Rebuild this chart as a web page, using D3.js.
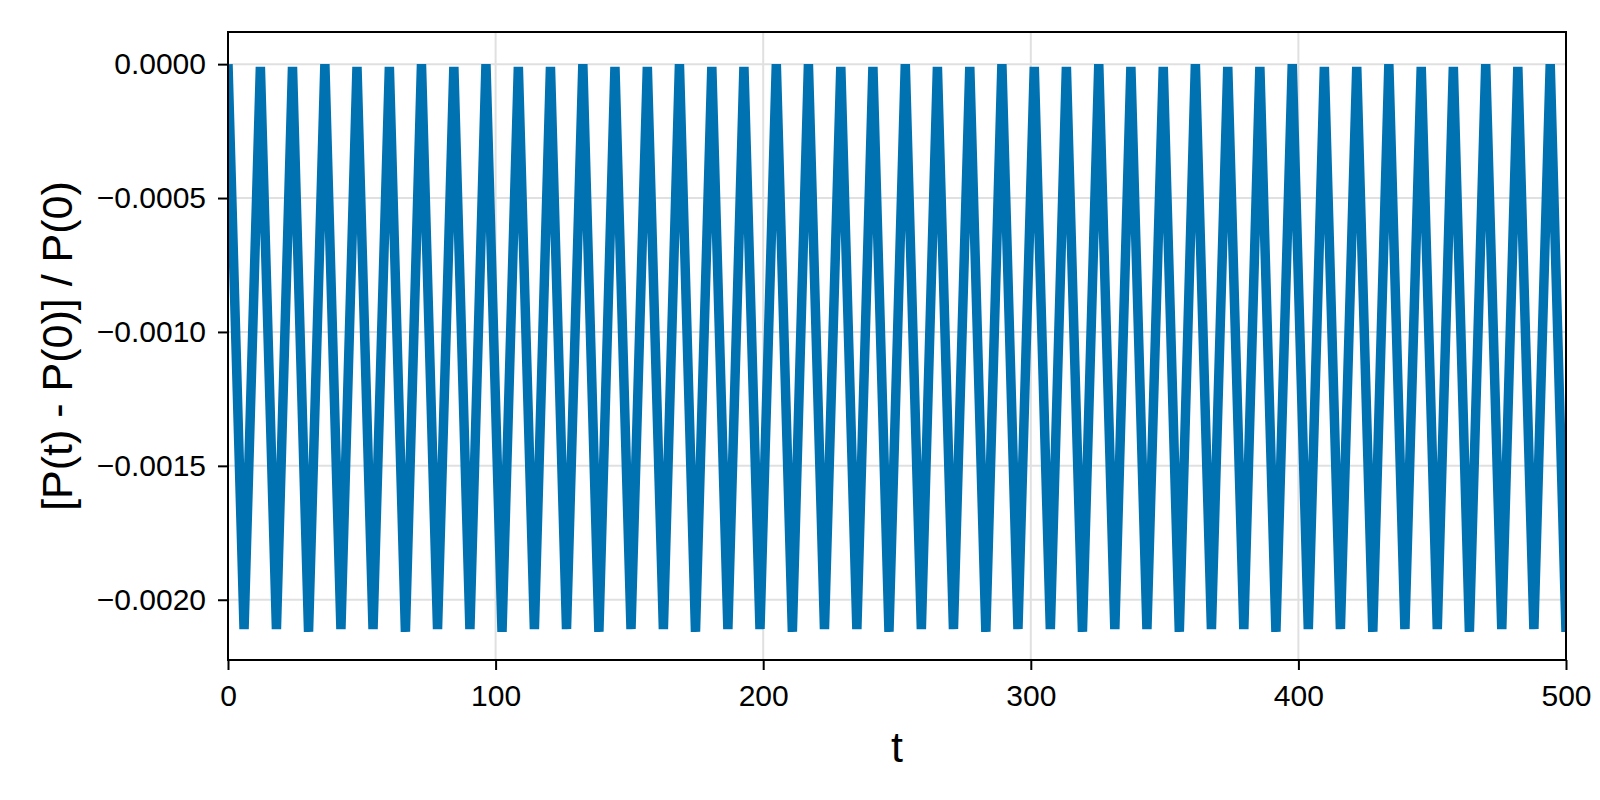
<!DOCTYPE html>
<html>
<head>
<meta charset="utf-8">
<script src="https://cdn.jsdelivr.net/npm/d3@7"></script>
<style>
  body { margin: 0; background: #ffffff; }
  svg { display: block; font-family: "Liberation Sans", Arial, sans-serif; }
</style>
</head>
<body>
<div id="chart"></div>
<script>
// times of the maxima / minima (period about 12.05)
var peakT = [0, 12.1, 24.1, 36.2, 48.2, 60.3, 72.3, 84.4, 96.4, 108.5, 120.5, 132.6, 144.6, 156.7,
    168.7, 180.8, 192.8, 204.9, 216.9, 229.0, 241.0, 253.1, 265.1, 277.2, 289.2, 301.3, 313.3,
    325.4, 337.4, 349.5, 361.5, 373.6, 385.6, 397.7, 409.7, 421.8, 433.8, 445.9, 457.9, 470.0,
    482.0, 494.1];
var peakP = [0, -0.00001, -0.00001, 0, -0.00001, -0.00001, 0, -0.00001, 0, -0.00001, -0.00001, 0,
    -0.00001, -0.00001, 0, -0.00001, -0.00001, 0, 0, -0.00001, -0.00001, 0, -0.00001, -0.00001, 0,
    -0.00001, -0.00001, 0, -0.00001, -0.00001, 0, -0.00001, -0.00001, 0, -0.00001, -0.00001, 0,
    -0.00001, -0.00001, 0, -0.00001, 0];
var troughT = [6.0, 18.1, 30.1, 42.2, 54.2, 66.3, 78.3, 90.4, 102.4, 114.5, 126.5, 138.6, 150.6,
    162.7, 174.7, 186.8, 198.8, 210.9, 222.9, 235.0, 247.0, 259.1, 271.1, 283.2, 295.2, 307.3,
    319.3, 331.4, 343.4, 355.5, 367.5, 379.6, 391.6, 403.7, 415.7, 427.8, 439.8, 451.9, 463.9,
    476.0, 488.0, 500.0];
var troughP = [-0.00211, -0.00211, -0.00212, -0.00211, -0.00211, -0.00212, -0.00211, -0.00211,
    -0.00212, -0.00211, -0.00211, -0.00212, -0.00211, -0.00211, -0.00212, -0.00211, -0.00211,
    -0.00212, -0.00211, -0.00211, -0.00212, -0.00211, -0.00211, -0.00212, -0.00211, -0.00211,
    -0.00212, -0.00211, -0.00211, -0.00212, -0.00211, -0.00211, -0.00212, -0.00211, -0.00211,
    -0.00212, -0.00211, -0.00211, -0.00212, -0.00211, -0.00211, -0.00212];

var xTicks = [0, 100, 200, 300, 400, 500];
var yTicks = [0, -0.0005, -0.0010, -0.0015, -0.0020];

var xLabel = "t";
var yLabel = "[P(t) - P(0)] / P(0)";

var W = 1600, H = 800;
var margin = { top: 32, right: 34, bottom: 140, left: 228 };
var width = W - margin.left - margin.right;
var height = H - margin.top - margin.bottom;

// merge maxima and minima into one series in time order
var data = [];
peakT.forEach(function(t, i) { data.push({ t: t, p: peakP[i] }); });
troughT.forEach(function(t, i) { data.push({ t: t, p: troughP[i] }); });
data.sort(function(a, b) { return a.t - b.t; });

var svg = d3.select("#chart")
    .append("svg")
    .attr("width", W)
    .attr("height", H);

var g = svg.append("g")
    .attr("transform", "translate(" + margin.left + "," + margin.top + ")");

var xScale = d3.scaleLinear()
    .domain([0, 500])
    .range([0, width]);

var yScale = d3.scaleLinear()
    .domain([-0.002225, 0.00012])
    .range([height, 0]);

// grid
g.append("g")
    .selectAll("line")
    .data(xTicks)
    .enter()
    .append("line")
    .attr("x1", function(d) { return xScale(d); })
    .attr("x2", function(d) { return xScale(d); })
    .attr("y1", 0)
    .attr("y2", height)
    .attr("stroke", "#e0e0e0")
    .attr("stroke-width", 2);

g.append("g")
    .selectAll("line")
    .data(yTicks)
    .enter()
    .append("line")
    .attr("x1", 0)
    .attr("x2", width)
    .attr("y1", function(d) { return yScale(d); })
    .attr("y2", function(d) { return yScale(d); })
    .attr("stroke", "#e0e0e0")
    .attr("stroke-width", 2);

g.append("clipPath")
    .attr("id", "clip")
    .append("rect")
    .attr("width", width)
    .attr("height", height);

var line = d3.line()
    .x(function(d) { return xScale(d.t); })
    .y(function(d) { return yScale(d.p); });

g.append("path")
    .datum(data)
    .attr("clip-path", "url(#clip)")
    .attr("d", line)
    .attr("fill", "none")
    .attr("stroke", "#0072b2")
    .attr("stroke-width", 9.5)
    .attr("stroke-linejoin", "bevel");

// axes
var xAxis = g.append("g")
    .attr("transform", "translate(0," + height + ")")
    .call(d3.axisBottom(xScale).tickValues(xTicks).tickSize(10).tickPadding(15)
        .tickFormat(d3.format("d")));

var yAxis = g.append("g")
    .call(d3.axisLeft(yScale).tickValues(yTicks).tickSize(10).tickPadding(12)
        .tickFormat(d3.format(".4f")));

[xAxis, yAxis].forEach(function(a) {
    a.select(".domain").remove();
    a.selectAll(".tick line").attr("stroke", "#000").attr("stroke-width", 2);
    a.selectAll(".tick text")
        .attr("fill", "#000")
        .style("font-size", "30px")
        .style("font-family", "'Liberation Sans', Arial, sans-serif");
});

// frame
g.append("rect")
    .attr("width", width)
    .attr("height", height)
    .attr("fill", "none")
    .attr("stroke", "#000")
    .attr("stroke-width", 2);

g.append("text")
    .attr("x", width / 2)
    .attr("y", height + 102)
    .attr("text-anchor", "middle")
    .attr("fill", "#000")
    .style("font-size", "43px")
    .text(xLabel);

g.append("text")
    .attr("transform", "translate(" + (72 - margin.left) + "," + (height / 2) + ") rotate(-90)")
    .attr("text-anchor", "middle")
    .attr("fill", "#000")
    .style("font-size", "43px")
    .text(yLabel);
</script>
</body>
</html>
